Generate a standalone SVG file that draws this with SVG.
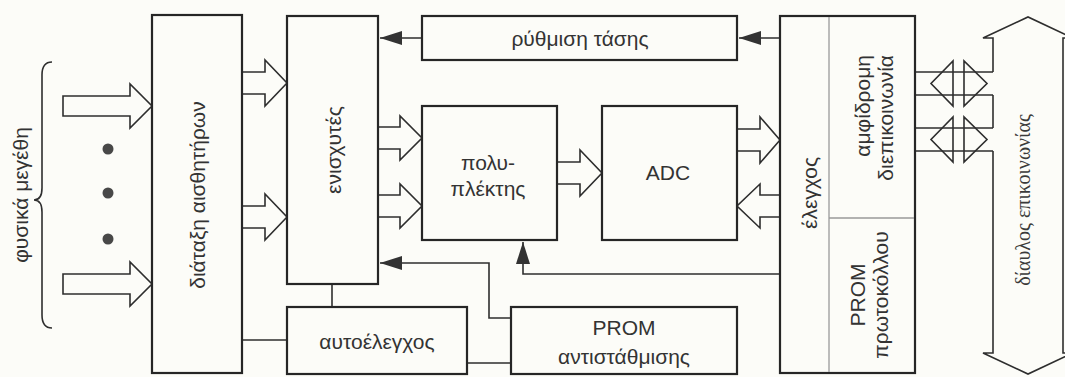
<svg xmlns="http://www.w3.org/2000/svg" width="1065" height="377" viewBox="0 0 1065 377">
  <style>
    .box { fill: none; stroke: #262626; stroke-width: 2.2; }
    .blk { fill: #fcfcf8; stroke: #2e2e2e; stroke-width: 1.6; stroke-linejoin: miter; }
    .ln { fill: none; stroke: #2e2e2e; stroke-width: 1.6; }
    .div { fill: none; stroke: #9a9a9a; stroke-width: 1.3; }
    .t { font-family: "Liberation Sans", Arial, sans-serif; font-size: 21px; fill: #333; text-anchor: middle; dominant-baseline: central; }
    .t.end { text-anchor: end; }
    .ts { font-family: "Liberation Serif", "Times New Roman", serif; font-size: 20px; fill: #3a3a3a; text-anchor: middle; dominant-baseline: central; }
  </style>
  <defs>
    <marker id="head" markerUnits="userSpaceOnUse" viewBox="0 0 22 14" markerWidth="22" markerHeight="14" refX="22" refY="7" orient="auto">
      <path d="M0,0 L22,7 L0,14 z" fill="#333"/>
    </marker>
  </defs>

  <rect x="0" y="0" width="1065" height="377" fill="#fcfcf8"/>

  <!-- physical quantities entering the sensor array -->
  <g id="inputs">
    <text class="t" font-size="20" fill="#444" transform="translate(20,195) rotate(-90)">φυσικά μεγέθη</text>
    <path class="ln" stroke="#555" stroke-width="1.2" d="M52,62 Q42,62 42,75 L42,188 Q42,200 34,200 Q42,200 42,212 L42,315 Q42,328 52,328"/>
    <polygon class="blk" points="63,96 130,96 130,84 152,106 130,128 130,116 63,116"/>
    <polygon class="blk" points="63,274 130,274 130,262 152,284 130,306 130,294 63,294"/>
    <circle cx="108" cy="149" r="5.5" fill="#484848"/>
    <circle cx="108" cy="193" r="5.5" fill="#484848"/>
    <circle cx="108" cy="239" r="5.5" fill="#484848"/>
  </g>

  <g id="connectors">
    <!-- sensors -> amplifiers -->
    <polyline class="blk" points="242,72 265,72 265,60 287,83 265,106 265,94 242,94"/>
    <polyline class="blk" points="242,206 265,206 265,194 287,217 265,240 265,228 242,228"/>
    <!-- amplifiers -> multiplexer -->
    <polyline class="blk" points="378,127 400,127 400,116 422,138 400,160 400,149 378,149"/>
    <polyline class="blk" points="378,195 400,195 400,184 422,206 400,228 400,217 378,217"/>
    <!-- multiplexer -> ADC -->
    <polyline class="blk" points="557,162 580,162 580,150 602,173 580,196 580,184 557,184"/>
    <!-- ADC <-> control -->
    <polyline class="blk" points="737,129 760,129 760,117 780,140 760,163 760,151 737,151"/>
    <polyline class="blk" points="780,195 760,195 760,184 737,206 760,228 760,217 780,217"/>

    <!-- control -> voltage regulation -> amplifiers -->
    <line class="ln" x1="780" y1="38" x2="739" y2="38" marker-end="url(#head)"/>
    <line class="ln" x1="422" y1="38" x2="380" y2="38" marker-end="url(#head)"/>
    <!-- compensation PROM -> amplifiers -->
    <polyline class="ln" points="511,318 489,318 489,263 380,263" marker-end="url(#head)"/>
    <!-- control -> multiplexer select -->
    <polyline class="ln" points="780,274 523,274 523,242" marker-end="url(#head)"/>
    <!-- self test links -->
    <line class="ln" x1="242" y1="340" x2="287" y2="340"/>
    <line class="ln" x1="332" y1="284" x2="332" y2="307"/>
    <line class="ln" x1="467" y1="363" x2="511" y2="363"/>

    <!-- bidirectional links to the bus -->
    <line class="ln" x1="915" y1="72" x2="993" y2="72"/>
    <line class="ln" x1="915" y1="95" x2="993" y2="95"/>
    <line class="ln" x1="915" y1="128" x2="993" y2="128"/>
    <line class="ln" x1="915" y1="151" x2="993" y2="151"/>
    <polygon class="ln" points="953,61 953,106 931,83.5"/>
    <polygon class="ln" points="964,61 964,106 987,83.5"/>
    <polygon class="ln" points="953,117 953,162 931,139.5"/>
    <polygon class="ln" points="964,117 964,162 987,139.5"/>
  </g>

  <!-- communication bus -->
  <g id="bus">
    <path class="ln" d="M993,72 L993,38 L983,38 L1028,17 L1073,38 L1063,38 L1063,353 L1073,353 L1028,374 L983,353 L993,353 L993,151"/>
    <line class="ln" x1="993" y1="95" x2="993" y2="128"/>
    <text class="ts" transform="translate(1023,200) rotate(-90)">δίαυλος επικοινωνίας</text>
  </g>

  <g id="sensors">
    <rect class="box" x="152" y="15" width="90" height="358"/>
    <text class="t" transform="translate(197,195) rotate(-90)">διάταξη αισθητήρων</text>
  </g>

  <g id="amplifiers">
    <rect class="box" x="287" y="16" width="91" height="268"/>
    <text class="t" transform="translate(333,150) rotate(-90)">ενισχυτές</text>
  </g>

  <g id="voltage-regulation">
    <rect class="box" x="422" y="16" width="315" height="44"/>
    <text class="t" x="580" y="38">ρύθμιση τάσης</text>
  </g>

  <g id="multiplexer">
    <rect class="box" x="422" y="106" width="135" height="134"/>
    <text class="t" x="488" y="162">πολυ-</text>
    <text class="t" x="488" y="188">πλέκτης</text>
  </g>

  <g id="adc">
    <rect class="box" x="602" y="106" width="135" height="134"/>
    <text class="t" x="668" y="172">ADC</text>
  </g>

  <g id="control">
    <rect class="box" x="780" y="16" width="135" height="357"/>
    <line class="div" x1="829" y1="17" x2="829" y2="372"/>
    <line class="div" x1="829" y1="218" x2="914" y2="218"/>
    <text class="t" transform="translate(809,193) rotate(-90)">έλεγχος</text>
    <text class="t end" transform="translate(862,55) rotate(-90)">αμφίδρομη</text>
    <text class="t end" transform="translate(885,55) rotate(-90)">διεπικοινωνία</text>
    <text class="t" transform="translate(857,295) rotate(-90)">PROM</text>
    <text class="t" transform="translate(880,295) rotate(-90)">πρωτοκόλλου</text>
  </g>

  <g id="self-test">
    <rect class="box" x="287" y="307" width="180" height="67"/>
    <text class="t" x="377" y="341">αυτοέλεγχος</text>
  </g>

  <g id="compensation-prom">
    <rect class="box" x="511" y="307" width="226" height="67"/>
    <text class="t" x="624" y="327">PROM</text>
    <text class="t" x="624" y="356">αντιστάθμισης</text>
  </g>
</svg>
